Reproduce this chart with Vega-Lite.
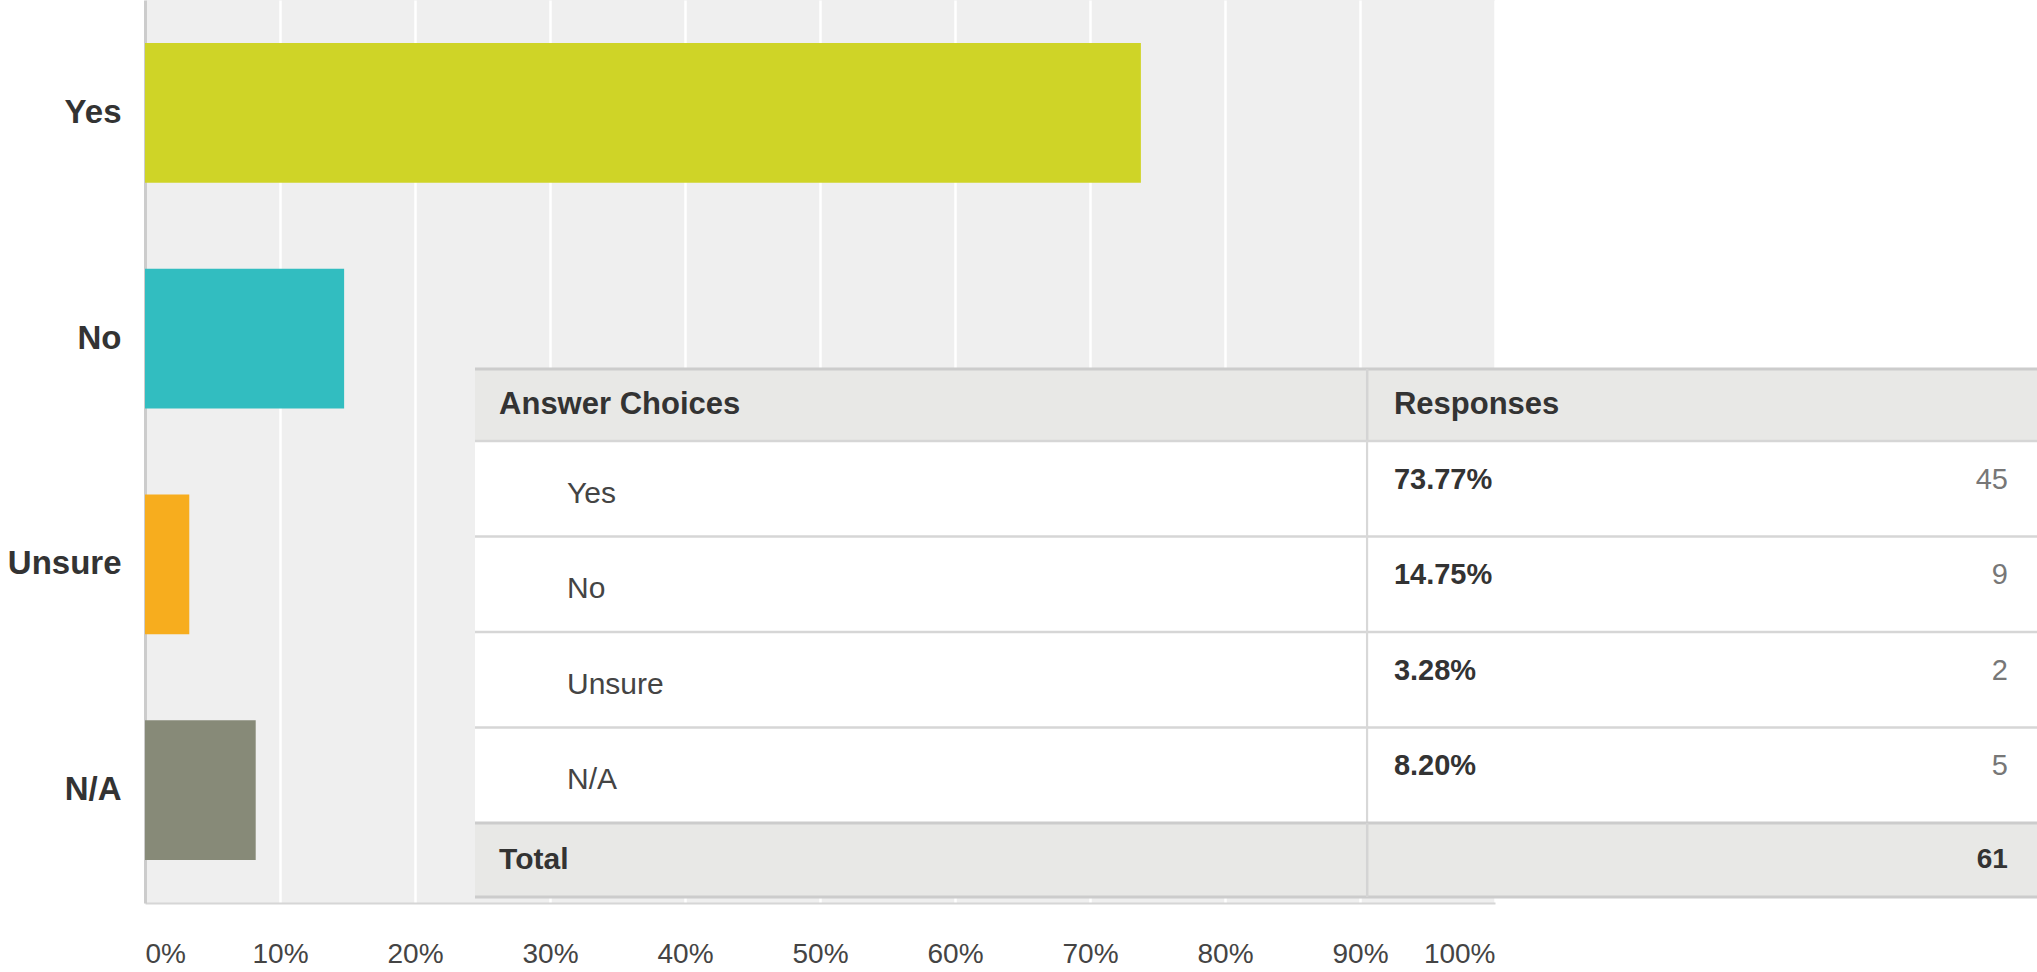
{
  "$schema": "https://vega.github.io/schema/vega-lite/v6.json",
  "width": 1350,
  "height": 903,
  "autosize": {"type": "none"},
  "padding": {"left": 145, "top": 0, "right": 542, "bottom": 69},
  "background": "#ffffff",
  "config": {
    "font": "Liberation Sans",
    "view": {"fill": "#efefef", "stroke": null}
  },
  "datasets": {
    "responses": [
      {"choice": "Yes", "pct": 0.7377, "count": 45},
      {"choice": "No", "pct": 0.1475, "count": 9},
      {"choice": "Unsure", "pct": 0.0328, "count": 2},
      {"choice": "N/A", "pct": 0.082, "count": 5}
    ]
  },
  "layer": [
    {
      "data": {"name": "responses"},
      "mark": {"type": "bar"},
      "encoding": {
        "x": {
          "field": "pct", "type": "quantitative",
          "scale": {"domain": [0, 1], "nice": false},
          "axis": {
            "format": ".0%", "values": [0, 0.1, 0.2, 0.3, 0.4, 0.5, 0.6, 0.7, 0.8, 0.9, 1],
            "title": null, "grid": true, "gridColor": "#ffffff", "gridWidth": 2.5, "gridOpacity": 1,
            "domain": true, "domainColor": "#d6d6d6", "domainWidth": 2,
            "ticks": false, "labelFontSize": 28, "labelColor": "#444444",
            "labelPadding": 37, "labelFlush": true, "labelOverlap": false
          }
        },
        "y": {
          "field": "choice", "type": "nominal",
          "scale": {"domain": ["Yes", "No", "Unsure", "N/A"], "paddingInner": 0.38, "paddingOuter": 0.19},
          "axis": {
            "title": null, "ticks": false, "domainColor": "#cccccc", "domainWidth": 3,
            "labelFontSize": 33, "labelFontWeight": "bold", "labelColor": "#333333", "labelPadding": 24
          }
        },
        "color": {
          "field": "choice", "type": "nominal",
          "scale": {"domain": ["Yes", "No", "Unsure", "N/A"], "range": ["#cfd427", "#32bdc0", "#f7ad1e", "#878a78"]},
          "legend": null
        }
      }
    },
    {
      "layer": [
        {
          "data": {"values": [{"c1": "Answer Choices", "c2": "Responses"}]},
          "layer": [
            {
              "mark": {"type": "rect", "fill": "#e8e8e6"},
              "encoding": {
                "x": {"datum": 0, "type": "quantitative", "scale": {"domain": [0, 100], "range": [330, 1892], "nice": false, "zero": false}, "axis": null},
                "x2": {"datum": 100},
                "y": {"field": "c1", "type": "nominal", "scale": {"domain": ["Answer Choices"], "range": [369, 441], "paddingInner": 0, "paddingOuter": 0}, "axis": null}
              }
            },
            {
              "mark": {"type": "rule", "color": "#cccccc", "strokeWidth": 3},
              "encoding": {
                "x": {"datum": 0, "type": "quantitative", "axis": null},
                "x2": {"datum": 100},
                "y": {"field": "c1", "type": "nominal", "bandPosition": 0, "axis": null}
              }
            },
            {
              "mark": {"type": "rect", "fill": "#d4d4d4"},
              "encoding": {
                "x": {"datum": 57.04, "type": "quantitative", "axis": null},
                "x2": {"datum": 57.2},
                "y": {"field": "c1", "type": "nominal", "axis": null}
              }
            },
            {
              "mark": {"type": "text", "align": "left", "baseline": "middle", "fontSize": 31, "fontWeight": "bold", "color": "#333333"},
              "encoding": {
                "x": {"datum": 1.54, "type": "quantitative", "axis": null},
                "y": {"field": "c1", "type": "nominal", "axis": null},
                "text": {"field": "c1"}
              }
            },
            {
              "mark": {"type": "text", "align": "left", "baseline": "middle", "fontSize": 31, "fontWeight": "bold", "color": "#333333"},
              "encoding": {
                "x": {"datum": 58.83, "type": "quantitative", "axis": null},
                "y": {"field": "c1", "type": "nominal", "axis": null},
                "text": {"field": "c2"}
              }
            }
          ]
        },
        {
          "data": {"name": "responses"},
          "layer": [
            {
              "mark": {"type": "rect", "fill": "#ffffff"},
              "encoding": {
                "x": {"datum": 0, "type": "quantitative", "axis": null},
                "x2": {"datum": 100},
                "y": {"field": "choice", "type": "nominal", "scale": {"domain": ["Yes", "No", "Unsure", "N/A"], "range": [441, 823], "paddingInner": 0, "paddingOuter": 0}, "axis": null}
              }
            },
            {
              "mark": {"type": "rule", "color": "#d6d6d6", "strokeWidth": 2.5},
              "encoding": {
                "x": {"datum": 0, "type": "quantitative", "axis": null},
                "x2": {"datum": 100},
                "y": {"field": "choice", "type": "nominal", "bandPosition": 0, "axis": null}
              }
            },
            {
              "mark": {"type": "rect", "fill": "#d8d8d8"},
              "encoding": {
                "x": {"datum": 57.04, "type": "quantitative", "axis": null},
                "x2": {"datum": 57.18},
                "y": {"field": "choice", "type": "nominal", "axis": null}
              }
            },
            {
              "mark": {"type": "text", "align": "left", "baseline": "middle", "fontSize": 30, "color": "#444444", "dy": 5},
              "encoding": {
                "x": {"datum": 5.89, "type": "quantitative", "axis": null},
                "y": {"field": "choice", "type": "nominal", "axis": null},
                "text": {"field": "choice"}
              }
            },
            {
              "mark": {"type": "text", "align": "left", "baseline": "middle", "fontSize": 29, "fontWeight": "bold", "color": "#333333", "dy": -9},
              "encoding": {
                "x": {"datum": 58.83, "type": "quantitative", "axis": null},
                "y": {"field": "choice", "type": "nominal", "axis": null},
                "text": {"field": "pct", "type": "quantitative", "format": ".2%"}
              }
            },
            {
              "mark": {"type": "text", "align": "right", "baseline": "middle", "fontSize": 29, "color": "#777777", "dy": -9},
              "encoding": {
                "x": {"datum": 98.14, "type": "quantitative", "axis": null},
                "y": {"field": "choice", "type": "nominal", "axis": null},
                "text": {"field": "count", "type": "quantitative"}
              }
            }
          ]
        },
        {
          "data": {"values": [{"label": "Total", "count": 61}]},
          "layer": [
            {
              "mark": {"type": "rect", "fill": "#e8e8e6"},
              "encoding": {
                "x": {"datum": 0, "type": "quantitative", "axis": null},
                "x2": {"datum": 100},
                "y": {"field": "label", "type": "nominal", "scale": {"domain": ["Total"], "range": [823, 897], "paddingInner": 0, "paddingOuter": 0}, "axis": null}
              }
            },
            {
              "mark": {"type": "rule", "color": "#cccccc", "strokeWidth": 3},
              "encoding": {
                "x": {"datum": 0, "type": "quantitative", "axis": null},
                "x2": {"datum": 100},
                "y": {"field": "label", "type": "nominal", "bandPosition": 0, "axis": null}
              }
            },
            {
              "mark": {"type": "rule", "color": "#cccccc", "strokeWidth": 3},
              "encoding": {
                "x": {"datum": 0, "type": "quantitative", "axis": null},
                "x2": {"datum": 100},
                "y": {"field": "label", "type": "nominal", "bandPosition": 1, "axis": null}
              }
            },
            {
              "mark": {"type": "rect", "fill": "#d4d4d4"},
              "encoding": {
                "x": {"datum": 57.04, "type": "quantitative", "axis": null},
                "x2": {"datum": 57.2},
                "y": {"field": "label", "type": "nominal", "axis": null}
              }
            },
            {
              "mark": {"type": "text", "align": "left", "baseline": "middle", "fontSize": 30, "fontWeight": "bold", "color": "#333333"},
              "encoding": {
                "x": {"datum": 1.54, "type": "quantitative", "axis": null},
                "y": {"field": "label", "type": "nominal", "axis": null},
                "text": {"field": "label"}
              }
            },
            {
              "mark": {"type": "text", "align": "right", "baseline": "middle", "fontSize": 28, "fontWeight": "bold", "color": "#333333"},
              "encoding": {
                "x": {"datum": 98.14, "type": "quantitative", "axis": null},
                "y": {"field": "label", "type": "nominal", "axis": null},
                "text": {"field": "count", "type": "quantitative"}
              }
            }
          ]
        }
      ],
      "resolve": {"scale": {"y": "independent"}}
    }
  ],
  "resolve": {"scale": {"x": "independent", "y": "independent"}}
}
